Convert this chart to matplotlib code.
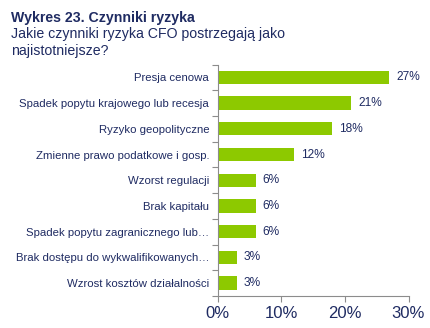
import matplotlib
matplotlib.use("Agg")
import matplotlib.pyplot as plt
import numpy as np

# Risk factors as perceived by CFOs (share of answers, %)
categories = [
    "Presja cenowa",
    "Spadek popytu krajowego lub recesja",
    "Ryzyko geopolityczne",
    "Zmienne prawo podatkowe i gosp.",
    "Wzorst regulacji",
    "Brak kapitału",
    "Spadek popytu zagranicznego lub…",
    "Brak dostępu do wykwalifikowanych…",
    "Wzrost kosztów działalności",
]
values = [27, 21, 18, 12, 6, 6, 6, 3, 3]
x_ticks = [0, 10, 20, 30]
x_tick_labels = ["0%", "10%", "20%", "30%"]

title = "Wykres 23. Czynniki ryzyka"
subtitle_lines = ["Jakie czynniki ryzyka CFO postrzegają jako", "najistotniejsze?"]

plt.rcParams["font.family"] = ["Liberation Sans", "DejaVu Sans"]
navy = "#1f2b62"
green = "#8dc900"
axis_grey = "#8c8c8c"

fig = plt.figure(figsize=(4.30, 3.28), dpi=100)
W, H = 430, 328
ax = fig.add_axes([217.5 / W, 1 - 296 / H, (408.5 - 217.5) / W, (296 - 64.5) / H])

y = np.arange(len(categories))
ax.barh(y, values, height=0.52, color=green, zorder=2)
for yi, v in zip(y, values):
    ax.text(v + 1.1, yi, f"{v}%", va="center", ha="left", fontsize=8.6, color=navy)

ax.set_xlim(0, 30)
ax.set_ylim(len(categories) - 0.5, -0.5)
ax.set_xticks(x_ticks)
ax.set_xticklabels(x_tick_labels, fontsize=12, color=navy)
ax.set_yticks(y)
ax.set_yticklabels(categories, fontsize=8.2, color=navy)
ax.tick_params(axis="y", length=0, pad=6)
ax.set_yticks(np.arange(-0.5, len(categories), 1), minor=True)
ax.tick_params(axis="y", which="minor", length=4, color=axis_grey, width=0.8)
ax.tick_params(axis="x", length=4, color=axis_grey, width=0.8, pad=3)

for side in ("top", "right"):
    ax.spines[side].set_visible(False)
for side in ("left", "bottom"):
    ax.spines[side].set_color(axis_grey)
    ax.spines[side].set_linewidth(0.8)

fig.text(11 / W, 1 - 22 / H, title, fontsize=10.2, fontweight="bold", color=navy,
         ha="left", va="baseline")
for i, line in enumerate(subtitle_lines):
    fig.text(11 / W, 1 - (38 + 17 * i) / H, line, fontsize=10.2, color=navy,
             ha="left", va="baseline")

fig.savefig("out.png", dpi=100)
